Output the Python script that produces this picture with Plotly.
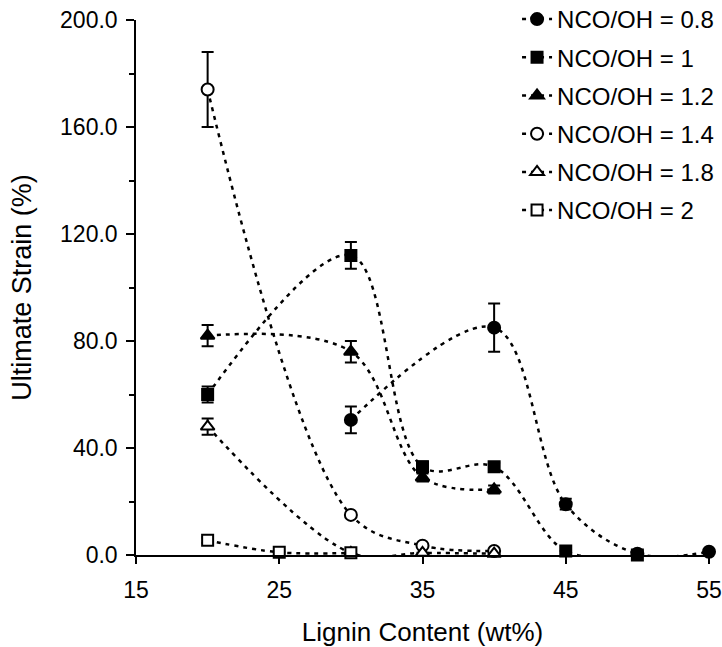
import plotly.graph_objects as go

# Ultimate strain vs lignin content for several NCO/OH ratios
lignin_08 = [30, 40, 45, 50, 55]
strain_08 = [50.5, 85.0, 19.0, 0.5, 1.2]
err_08 = [5.0, 9.0, 2.0, 0.0, 0.0]

lignin_10 = [20, 30, 35, 40, 45, 50]
strain_10 = [60.0, 112.0, 33.0, 33.0, 1.5, 0.0]
err_10 = [3.0, 5.0, 2.0, 1.5, 0.0, 0.0]

lignin_12 = [20, 30, 35, 40]
strain_12 = [82.0, 76.0, 29.0, 24.5]
err_12 = [4.0, 4.0, 1.5, 1.5]

lignin_14 = [20, 30, 35, 40]
strain_14 = [174.0, 15.0, 3.5, 1.5]
err_14 = [14.0, 0.0, 0.0, 0.0]

lignin_18 = [20, 30, 35, 40]
strain_18 = [48.0, 0.8, 0.8, 0.5]
err_18 = [3.0, 0.0, 0.0, 0.0]

lignin_20 = [20, 25, 30]
strain_20 = [5.5, 1.0, 0.8]
err_20 = [1.0, 0.0, 0.0]

series_names = ["NCO/OH = 0.8", "NCO/OH = 1", "NCO/OH = 1.2",
                "NCO/OH = 1.4", "NCO/OH = 1.8", "NCO/OH = 2"]
x_ticks = [15, 25, 35, 45, 55]
y_ticks = [0, 40, 80, 120, 160, 200]

series = [
    (lignin_08, strain_08, err_08, "circle", True),
    (lignin_10, strain_10, err_10, "square", True),
    (lignin_12, strain_12, err_12, "triangle-up", True),
    (lignin_14, strain_14, err_14, "circle", False),
    (lignin_18, strain_18, err_18, "triangle-up", False),
    (lignin_20, strain_20, err_20, "square", False),
]

fig = go.Figure()
for i, (xs, ys, es, sym, filled) in enumerate(series):
    fig.add_trace(go.Scatter(
        x=xs, y=ys, name=series_names[i], legendgroup=f"g{i}",
        mode="lines+markers",
        line=dict(color="black", width=2.5, dash="4px,5px",
                  shape="spline", smoothing=1.0),
        marker=dict(symbol=sym, size=12 if sym != "square" else 11,
                    color="black" if filled else "white",
                    line=dict(color="black", width=2)),
        error_y=dict(type="data", array=es, visible=True,
                     color="black", thickness=2, width=6),
        cliponaxis=False,
    ))

font_family = "Liberation Sans, Arial, sans-serif"
fig.update_layout(
    width=722, height=647,
    margin=dict(l=136, r=13, t=20, b=92, autoexpand=False),
    paper_bgcolor="white", plot_bgcolor="white",
    font=dict(family=font_family, color="black", size=23),
    showlegend=True,
    legend=dict(x=0.665, xanchor="left", y=1.043, yanchor="top",
                font=dict(size=24), tracegroupgap=4,
                bgcolor="rgba(0,0,0,0)", itemwidth=30),
    xaxis=dict(
        range=[15, 55], tickvals=x_ticks, ticktext=[str(v) for v in x_ticks],
        ticks="outside", ticklen=7, tickwidth=1.5, tickcolor="black",
        ticklabelstandoff=7, ticklabeloverflow="allow", automargin=False,
        showline=True, linecolor="black", linewidth=1.5,
        showgrid=False, zeroline=False,
        tickfont=dict(size=23),
        title=dict(text="Lignin Content (wt%)", font=dict(size=26), standoff=20),
    ),
    yaxis=dict(
        range=[0, 200], tickvals=y_ticks,
        ticktext=[f"{v:.1f}" for v in y_ticks],
        ticks="outside", ticklen=8, tickwidth=1.5, tickcolor="black",
        ticklabelstandoff=4, automargin=False,
        minor=dict(tickvals=[20, 60, 100, 140, 180], ticks="outside",
                   ticklen=5, tickwidth=1.5, tickcolor="black"),
        showline=True, linecolor="black", linewidth=1.5,
        showgrid=False, zeroline=False,
        tickfont=dict(size=23),
        title=dict(text="Ultimate Strain (%)", font=dict(size=27), standoff=21),
    ),
)

fig.write_html("out.html")
